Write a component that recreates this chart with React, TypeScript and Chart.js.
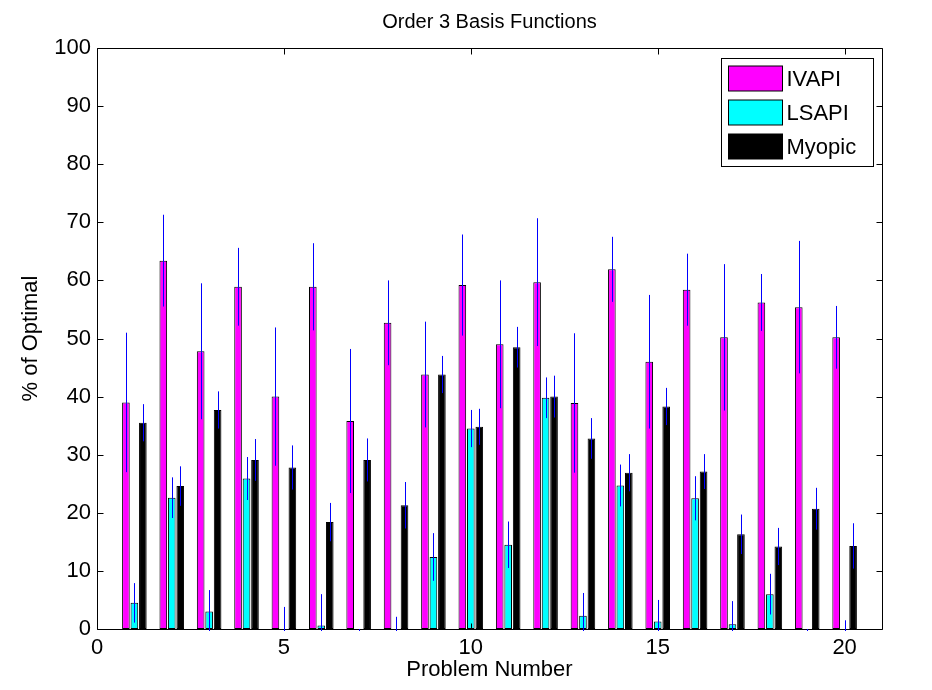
import React, { useEffect, useRef } from "react";
import { Chart, registerables } from "chart.js";

Chart.register(...registerables);

const titleText = "Order 3 Basis Functions";
const xLabel = "Problem Number";
const yLabel = "% of Optimal";

const seriesNames = ["IVAPI", "LSAPI", "Myopic"];
const seriesColors = ["#ff00ff", "#00ffff", "#000000"];

const problems = [1, 2, 3, 4, 5, 6, 7, 8, 9, 10, 11, 12, 13, 14, 15, 16, 17, 18, 19, 20];
const xTicks = [0, 5, 10, 15, 20];
const yTicks = [0, 10, 20, 30, 40, 50, 60, 70, 80, 90, 100];

const ivapi = [39.0, 63.4, 47.8, 58.9, 40.0, 58.9, 35.8, 52.7, 43.8, 59.2, 49.0, 59.7, 38.9, 61.9, 46.0, 58.4, 50.2, 56.2, 55.4, 50.2];
const ivapiErr = [12.0, 7.9, 11.7, 6.7, 11.9, 7.5, 12.4, 7.3, 9.1, 8.7, 11.0, 11.0, 12.0, 5.6, 11.5, 6.2, 12.6, 4.9, 11.4, 5.4];

const lsapi = [4.5, 22.6, 3.0, 25.9, -0.3, 0.6, -0.3, -0.3, 12.4, 34.5, 14.5, 39.8, 2.3, 24.7, 1.3, 22.5, 0.8, 6.0, -0.3, -0.3];
const lsapiErr = [3.4, 3.5, 3.7, 3.7, 4.1, 5.4, 0.3, 2.4, 4.1, 3.2, 4.0, 3.5, 3.9, 3.6, 3.7, 3.8, 4.0, 3.5, 0.3, 1.8];

const myopic = [35.5, 24.6, 37.7, 29.1, 27.8, 18.4, 29.1, 21.3, 43.8, 34.8, 48.5, 40.0, 32.8, 26.9, 38.3, 27.1, 16.3, 14.2, 20.7, 14.3];
const myopicErr = [3.2, 3.4, 3.2, 3.6, 3.8, 3.3, 3.7, 4.0, 3.2, 3.1, 3.5, 3.6, 3.5, 3.2, 3.2, 3.0, 3.4, 3.2, 3.6, 3.9];

const FONT = "'Liberation Sans', Arial, Helvetica, sans-serif";

export default function App() {
  const ref = useRef<HTMLCanvasElement>(null);

  useEffect(() => {
    const canvas = ref.current;
    if (!canvas) return;
    const vals = [ivapi, lsapi, myopic];
    const errs = [ivapiErr, lsapiErr, myopicErr];

    const datasets = seriesNames.map((name, k) => ({
      label: name,
      data: problems.map((p, i) => ({ x: p, y: vals[k][i] })),
      backgroundColor: seriesColors[k],
      borderColor: "#000000",
      borderWidth: 1,
      borderSkipped: false,
      categoryPercentage: 0.68,
      barPercentage: 0.9,
    }));

    const matlabPlugin = {
      id: "matlabDecor",
      afterDatasetsDraw(chart: any) {
        const { ctx, chartArea: a, scales } = chart;
        const L = Math.round(a.left) + 0.5;
        const R = Math.round(a.right) + 0.5;
        const T = Math.round(a.top) + 0.5;
        const B = Math.round(a.bottom) + 0.5;
        ctx.save();
        ctx.strokeStyle = "#000";
        ctx.lineWidth = 1;
        ctx.beginPath();
        ctx.rect(L, T, R - L, B - T);
        const tl = 6;
        xTicks.forEach((v) => {
          const px = Math.round(scales.x.getPixelForValue(v)) + 0.5;
          ctx.moveTo(px, B);
          ctx.lineTo(px, B - tl);
          ctx.moveTo(px, T);
          ctx.lineTo(px, T + tl);
        });
        yTicks.forEach((v) => {
          const py = Math.round(scales.y.getPixelForValue(v)) + 0.5;
          ctx.moveTo(L, py);
          ctx.lineTo(L + tl, py);
          ctx.moveTo(R, py);
          ctx.lineTo(R - tl, py);
        });
        ctx.stroke();

        // error bars
        ctx.beginPath();
        ctx.rect(a.left, a.top, a.right - a.left, a.bottom - a.top + 2);
        ctx.clip();
        ctx.strokeStyle = "#0000ff";
        ctx.lineWidth = 1;
        chart.data.datasets.forEach((_ds: any, k: number) => {
          const meta = chart.getDatasetMeta(k);
          meta.data.forEach((bar: any, i: number) => {
            const v = vals[k][i];
            const e = errs[k][i];
            const x = Math.round(bar.x) + 0.5;
            ctx.beginPath();
            ctx.moveTo(x, scales.y.getPixelForValue(v + e));
            ctx.lineTo(x, scales.y.getPixelForValue(v - e));
            ctx.stroke();
          });
        });
        ctx.restore();
      },
      afterDraw(chart: any) {
        const { ctx, chartArea: a } = chart;
        const w = 152;
        const h = 108;
        const left = Math.round(a.right - 9 - w) + 0.5;
        const top = Math.round(a.top + 10) + 0.5;
        ctx.save();
        ctx.fillStyle = "#ffffff";
        ctx.fillRect(left, top, w, h);
        ctx.strokeStyle = "#000";
        ctx.lineWidth = 1;
        ctx.strokeRect(left, top, w, h);
        ctx.font = `22px ${FONT}`;
        ctx.textBaseline = "middle";
        ctx.textAlign = "left";
        chart.data.datasets.forEach((ds: any, k: number) => {
          const cy = top + 20 + k * 34;
          ctx.fillStyle = ds.backgroundColor;
          ctx.fillRect(left + 7, Math.round(cy - 12.5), 54, 25);
          ctx.strokeStyle = "#000";
          ctx.strokeRect(left + 7, Math.round(cy - 12.5), 54, 25);
          ctx.fillStyle = "#000";
          ctx.fillText(ds.label, left + 65, cy + 1);
        });
        ctx.restore();
      },
    };

    const chart = new Chart(canvas, {
      type: "bar",
      data: { datasets: datasets as any },
      options: {
        responsive: false,
        animation: false,
        devicePixelRatio: 1,
        layout: { padding: { left: 0, right: 50, top: 0, bottom: 0 } },
        plugins: {
          legend: { display: false },
          tooltip: { enabled: false },
          title: {
            display: true,
            text: titleText,
            fullSize: false,
            color: "#000",
            font: { family: FONT, size: 20, weight: "normal" },
            padding: { top: 10, bottom: 14 },
          },
        },
        scales: {
          x: {
            type: "linear",
            min: 0,
            max: 21,
            offset: false,
            grid: { display: false, drawTicks: false },
            border: { display: false },
            afterBuildTicks: (s: any) => {
              s.ticks = xTicks.map((v) => ({ value: v }));
            },
            ticks: {
              stepSize: 5,
              includeBounds: false,
              padding: 6,
              maxRotation: 0,
              autoSkip: false,
              color: "#000",
              font: { family: FONT, size: 22 },
            },
            title: {
              display: true,
              text: xLabel,
              color: "#000",
              font: { family: FONT, size: 22 },
              padding: { top: 0, bottom: 7 },
            },
            afterFit: (s: any) => {
              s.height = 61;
            },
          },
          y: {
            type: "linear",
            min: 0,
            max: 100,
            grid: { display: false, drawTicks: false },
            border: { display: false },
            afterBuildTicks: (s: any) => {
              s.ticks = yTicks.map((v) => ({ value: v }));
            },
            ticks: {
              stepSize: 10,
              padding: 6,
              color: "#000",
              font: { family: FONT, size: 22 },
            },
            title: {
              display: true,
              text: yLabel,
              color: "#000",
              font: { family: FONT, size: 22 },
              padding: { top: 18, bottom: 0 },
            },
            afterFit: (s: any) => {
              s.width = 97;
            },
          },
        },
      } as any,
      plugins: [matlabPlugin],
    });

    return () => {
      chart.destroy();
    };
  }, []);

  return (
    <div style={{ position: "fixed", left: 0, top: 0, width: 932, height: 690, background: "#fff" }}>
      <canvas ref={ref} width={932} height={690} style={{ display: "block", width: 932, height: 690 }} />
    </div>
  );
}
